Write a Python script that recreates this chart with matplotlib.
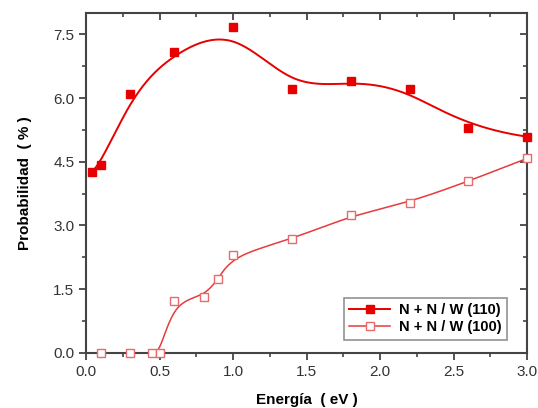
import numpy as np
import matplotlib.pyplot as plt
from matplotlib.ticker import MultipleLocator

plt.rcParams['font.family'] = ['Liberation Sans', 'DejaVu Sans']

# Datos: energia (eV) y probabilidad (%)
e_110 = [0.04, 0.1, 0.3, 0.6, 1.0, 1.4, 1.8, 2.2, 2.6, 3.0]
p_110 = [4.27, 4.43, 6.09, 7.08, 7.67, 6.21, 6.40, 6.22, 5.29, 5.09]

e_100 = [0.1, 0.3, 0.45, 0.5, 0.6, 0.8, 0.9, 1.0, 1.4, 1.8, 2.2, 2.6, 3.0]
p_100 = [0.0, 0.0, 0.0, 0.0, 1.22, 1.32, 1.75, 2.30, 2.67, 3.24, 3.53, 4.04, 4.58]


def bspline(px, py, n=400, k=3):
    # B-spline cubica con los puntos como puntos de control (como en Origin)
    px = np.asarray(px, float)
    py = np.asarray(py, float)
    m = len(px)
    knots = np.concatenate([np.zeros(k), np.linspace(0, 1, m - k + 1), np.ones(k)])
    t = np.linspace(0, 1, n)
    t[-1] = 1 - 1e-10
    B = np.zeros((n, len(knots) - 1))
    for i in range(len(knots) - 1):
        B[:, i] = (t >= knots[i]) & (t < knots[i + 1])
    for d in range(1, k + 1):
        Bn = np.zeros((n, len(knots) - 1 - d))
        for i in range(len(knots) - 1 - d):
            a = knots[i + d] - knots[i]
            b = knots[i + d + 1] - knots[i + 1]
            left = (t - knots[i]) / a * B[:, i] if a > 0 else 0
            right = (knots[i + d + 1] - t) / b * B[:, i + 1] if b > 0 else 0
            Bn[:, i] = left + right
        B = Bn
    return B @ px, B @ py


fig = plt.figure(figsize=(5.38, 4.08), dpi=100)
ax = fig.add_axes([0.160, 0.135, 0.820, 0.833])

red = '#e60000'
sx, sy = bspline(e_110, p_110)
ax.plot(sx, sy, color=red, lw=1.4, zorder=2)
ax.plot(e_110, p_110, 's', color=red, ms=6, mec=red, zorder=3, clip_on=False)

sx2, sy2 = bspline(e_100, p_100)
ax.plot(sx2, sy2, color='#e83a3a', lw=1.1, zorder=2)
ax.plot(e_100, p_100, 's', mfc='white', mec='#e86a6a', ms=5.5, mew=1.0, zorder=3,
        clip_on=False)

# entradas de leyenda
ax.plot([], [], '-s', color=red, ms=6, lw=1.4, label='N + N / W (110)')
ax.plot([], [], '-s', color='#e83a3a', mfc='white', mec='#e86a6a', ms=5.5, lw=1.1,
        label='N + N / W (100)')

ax.set_xlim(0, 3.0)
ax.set_ylim(0, 8.0)
ax.xaxis.set_major_locator(MultipleLocator(0.5))
ax.xaxis.set_minor_locator(MultipleLocator(0.25))
ax.yaxis.set_major_locator(MultipleLocator(1.5))
ax.yaxis.set_minor_locator(MultipleLocator(0.75))
ax.xaxis.set_major_formatter(plt.FormatStrFormatter('%.1f'))
ax.yaxis.set_major_formatter(plt.FormatStrFormatter('%.1f'))

for s in ax.spines.values():
    s.set_color('#444444')
    s.set_linewidth(1.5)

ax.tick_params(which='major', direction='out', length=5, width=1.3, color='#444444',
               labelsize=11, labelcolor='#333333')
ax.tick_params(which='minor', direction='out', length=3, width=1.2, color='#444444')

# ejes espejo con marcas hacia adentro
top = ax.secondary_xaxis('top')
top.xaxis.set_major_locator(MultipleLocator(0.5))
top.xaxis.set_minor_locator(MultipleLocator(0.25))
top.tick_params(which='major', direction='in', length=5, width=1.3, color='#444444', labeltop=False)
top.tick_params(which='minor', direction='in', length=3, width=1.2, color='#444444')
top.spines['top'].set_visible(False)
right = ax.secondary_yaxis('right')
right.yaxis.set_major_locator(MultipleLocator(1.5))
right.yaxis.set_minor_locator(MultipleLocator(0.75))
right.tick_params(which='major', direction='in', length=5, width=1.3, color='#444444', labelright=False)
right.tick_params(which='minor', direction='in', length=3, width=1.2, color='#444444')
right.spines['right'].set_visible(False)

ax.set_xlabel('Energía  ( eV )', fontsize=11, fontweight='bold', labelpad=10)
ax.set_ylabel('Probabilidad  ( % )', fontsize=11, fontweight='bold', labelpad=15)

leg = ax.legend(loc='lower right', bbox_to_anchor=(0.97, 0.018), fancybox=False,
                edgecolor='#777777', handlelength=2.8, prop={'weight': 'bold', 'size': 10.5},
                borderpad=0.35, labelspacing=0.25, handletextpad=0.6)
leg.get_frame().set_linewidth(1.2)

fig.savefig('out.png', dpi=100)
